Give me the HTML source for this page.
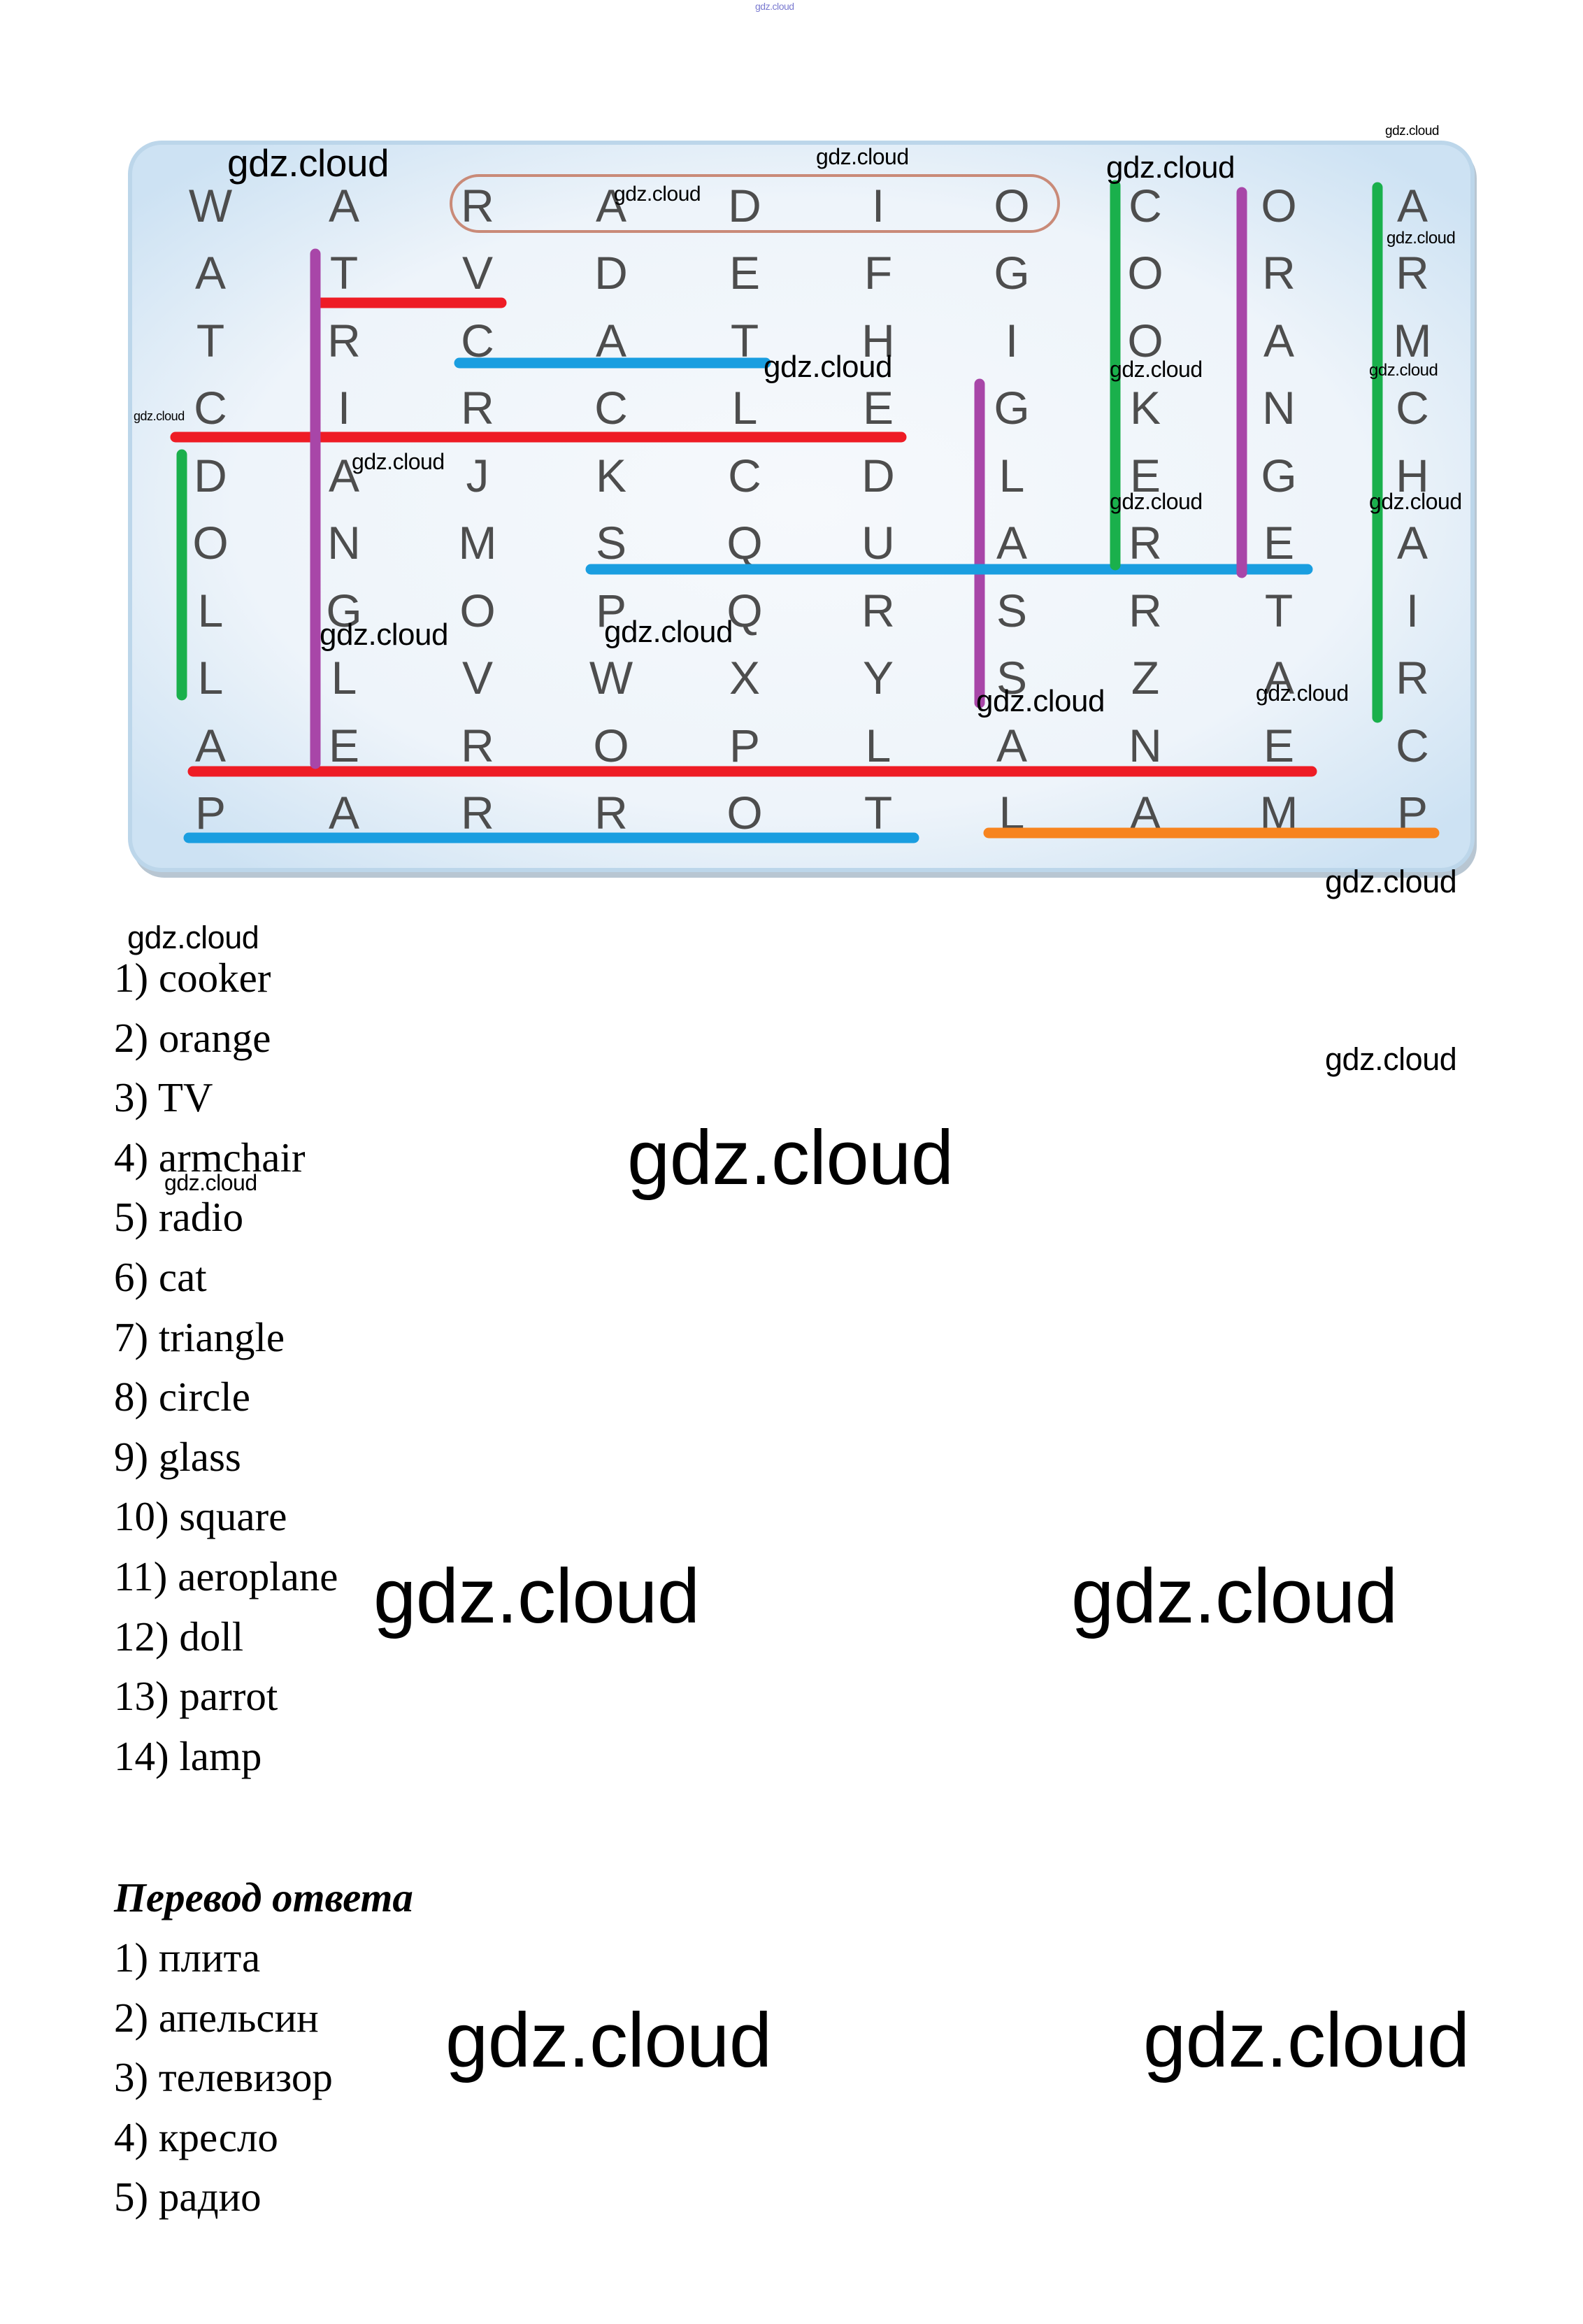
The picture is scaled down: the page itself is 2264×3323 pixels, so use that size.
<!DOCTYPE html>
<html><head><meta charset="utf-8"><style>
html,body{margin:0;padding:0;background:#fff;}
svg{display:block;}
.g{font-family:"Liberation Sans",sans-serif;fill:#4d4d4d;font-size:66px;text-anchor:middle;}
.w{font-family:"Liberation Sans",sans-serif;fill:#000;letter-spacing:-0.03em;}
.t{font-family:"Liberation Serif",serif;font-size:59px;fill:#000;}
</style></head><body>
<svg width="2264" height="3323" viewBox="0 0 2264 3323" xmlns="http://www.w3.org/2000/svg">
<defs>
<radialGradient id="bg" cx="50%" cy="50%" r="65%">
<stop offset="0" stop-color="#f6f9fc"/><stop offset="0.65" stop-color="#eef4fa"/><stop offset="1" stop-color="#cde2f3"/>
</radialGradient>
</defs>
<rect x="190" y="210" width="1922" height="1045" rx="45" fill="#b8c6d2"/>
<rect x="186" y="204" width="1920" height="1040" rx="45" fill="url(#bg)" stroke="#bcd6ea" stroke-width="6"/>
<rect x="645" y="251" width="869" height="80" rx="40" fill="none" stroke="#c98a78" stroke-width="4"/>
<g class="g">
<text x="301" y="317">W</text><text x="492" y="317">A</text><text x="683" y="317">R</text><text x="874" y="317">A</text><text x="1065" y="317">D</text><text x="1256" y="317">I</text><text x="1447" y="317">O</text><text x="1638" y="317">C</text><text x="1829" y="317">O</text><text x="2020" y="317">A</text>
<text x="301" y="413">A</text><text x="492" y="413">T</text><text x="683" y="413">V</text><text x="874" y="413">D</text><text x="1065" y="413">E</text><text x="1256" y="413">F</text><text x="1447" y="413">G</text><text x="1638" y="413">O</text><text x="1829" y="413">R</text><text x="2020" y="413">R</text>
<text x="301" y="510">T</text><text x="492" y="510">R</text><text x="683" y="510">C</text><text x="874" y="510">A</text><text x="1065" y="510">T</text><text x="1256" y="510">H</text><text x="1447" y="510">I</text><text x="1638" y="510">O</text><text x="1829" y="510">A</text><text x="2020" y="510">M</text>
<text x="301" y="606">C</text><text x="492" y="606">I</text><text x="683" y="606">R</text><text x="874" y="606">C</text><text x="1065" y="606">L</text><text x="1256" y="606">E</text><text x="1447" y="606">G</text><text x="1638" y="606">K</text><text x="1829" y="606">N</text><text x="2020" y="606">C</text>
<text x="301" y="703">D</text><text x="492" y="703">A</text><text x="683" y="703">J</text><text x="874" y="703">K</text><text x="1065" y="703">C</text><text x="1256" y="703">D</text><text x="1447" y="703">L</text><text x="1638" y="703">E</text><text x="1829" y="703">G</text><text x="2020" y="703">H</text>
<text x="301" y="799">O</text><text x="492" y="799">N</text><text x="683" y="799">M</text><text x="874" y="799">S</text><text x="1065" y="799">Q</text><text x="1256" y="799">U</text><text x="1447" y="799">A</text><text x="1638" y="799">R</text><text x="1829" y="799">E</text><text x="2020" y="799">A</text>
<text x="301" y="896">L</text><text x="492" y="896">G</text><text x="683" y="896">O</text><text x="874" y="896">P</text><text x="1065" y="896">Q</text><text x="1256" y="896">R</text><text x="1447" y="896">S</text><text x="1638" y="896">R</text><text x="1829" y="896">T</text><text x="2020" y="896">I</text>
<text x="301" y="992">L</text><text x="492" y="992">L</text><text x="683" y="992">V</text><text x="874" y="992">W</text><text x="1065" y="992">X</text><text x="1256" y="992">Y</text><text x="1447" y="992">S</text><text x="1638" y="992">Z</text><text x="1829" y="992">A</text><text x="2020" y="992">R</text>
<text x="301" y="1089">A</text><text x="492" y="1089">E</text><text x="683" y="1089">R</text><text x="874" y="1089">O</text><text x="1065" y="1089">P</text><text x="1256" y="1089">L</text><text x="1447" y="1089">A</text><text x="1638" y="1089">N</text><text x="1829" y="1089">E</text><text x="2020" y="1089">C</text>
<text x="301" y="1185">P</text><text x="492" y="1185">A</text><text x="683" y="1185">R</text><text x="874" y="1185">R</text><text x="1065" y="1185">O</text><text x="1256" y="1185">T</text><text x="1447" y="1185">L</text><text x="1638" y="1185">A</text><text x="1829" y="1185">M</text><text x="2020" y="1185">P</text>
</g>
<g stroke-width="15" stroke-linecap="round" fill="none">
<line x1="457" y1="433" x2="717" y2="433" stroke="#ee1c25"/>
<line x1="657" y1="519" x2="1095" y2="519" stroke="#1a9ee0"/>
<line x1="251" y1="625" x2="1289" y2="625" stroke="#ee1c25"/>
<line x1="260" y1="650" x2="260" y2="994" stroke="#1ab04c"/>
<line x1="1401" y1="549" x2="1401" y2="1005" stroke="#a846a8"/>
<line x1="845" y1="814" x2="1870" y2="814" stroke="#1a9ee0"/>
<line x1="1595" y1="265" x2="1595" y2="808" stroke="#1ab04c"/>
<line x1="1776" y1="275" x2="1776" y2="819" stroke="#a846a8"/>
<line x1="1970" y1="268" x2="1970" y2="1026" stroke="#1ab04c"/>
<line x1="276" y1="1103" x2="1876" y2="1103" stroke="#ee1c25"/>
<line x1="451" y1="363" x2="451" y2="1092" stroke="#a846a8"/>
<line x1="270" y1="1198" x2="1307" y2="1198" stroke="#1a9ee0"/>
<line x1="1414" y1="1191" x2="2051" y2="1191" stroke="#f7841f"/>
</g>
<g class="w">
<text x="1080" y="14" font-size="14" fill="#7a7ad0">gdz.cloud</text>
<text x="325" y="252" font-size="55">gdz.cloud</text>
<text x="1167" y="235" font-size="32">gdz.cloud</text>
<text x="878" y="287" font-size="30">gdz.cloud</text>
<text x="1582" y="254" font-size="44">gdz.cloud</text>
<text x="1981" y="193" font-size="19">gdz.cloud</text>
<text x="1983" y="348" font-size="24">gdz.cloud</text>
<text x="1092" y="539" font-size="44">gdz.cloud</text>
<text x="1587" y="539" font-size="32">gdz.cloud</text>
<text x="1958" y="537" font-size="24">gdz.cloud</text>
<text x="191" y="601" font-size="18">gdz.cloud</text>
<text x="503" y="671" font-size="32">gdz.cloud</text>
<text x="1587" y="728" font-size="32">gdz.cloud</text>
<text x="1958" y="728" font-size="32">gdz.cloud</text>
<text x="457" y="922" font-size="44">gdz.cloud</text>
<text x="864" y="918" font-size="44">gdz.cloud</text>
<text x="1396" y="1017" font-size="44">gdz.cloud</text>
<text x="1796" y="1002" font-size="32">gdz.cloud</text>
<text x="1895" y="1276" font-size="45">gdz.cloud</text>
<text x="1895" y="1530" font-size="45">gdz.cloud</text>
<text x="182" y="1356" font-size="45">gdz.cloud</text>
<text x="235" y="1702" font-size="32">gdz.cloud</text>
<text x="897" y="1693" font-size="110">gdz.cloud</text>
<text x="534" y="2320" font-size="110">gdz.cloud</text>
<text x="1532" y="2320" font-size="110">gdz.cloud</text>
<text x="637" y="2955" font-size="110">gdz.cloud</text>
<text x="1635" y="2955" font-size="110">gdz.cloud</text>
</g>
<g class="t">
<text x="163" y="1418">1) cooker</text>
<text x="163" y="1504">2) orange</text>
<text x="163" y="1589">3) TV</text>
<text x="163" y="1675">4) armchair</text>
<text x="163" y="1760">5) radio</text>
<text x="163" y="1846">6) cat</text>
<text x="163" y="1932">7) triangle</text>
<text x="163" y="2017">8) circle</text>
<text x="163" y="2103">9) glass</text>
<text x="163" y="2188">10) square</text>
<text x="163" y="2274">11) aeroplane</text>
<text x="163" y="2360">12) doll</text>
<text x="163" y="2445">13) parrot</text>
<text x="163" y="2531">14) lamp</text>
<text x="163" y="2733" font-weight="bold" font-style="italic">Перевод ответа</text>
<text x="163" y="2819">1) плита</text>
<text x="163" y="2905">2) апельсин</text>
<text x="163" y="2990">3) телевизор</text>
<text x="163" y="3076">4) кресло</text>
<text x="163" y="3161">5) радио</text>
</g>
</svg>
</body></html>
